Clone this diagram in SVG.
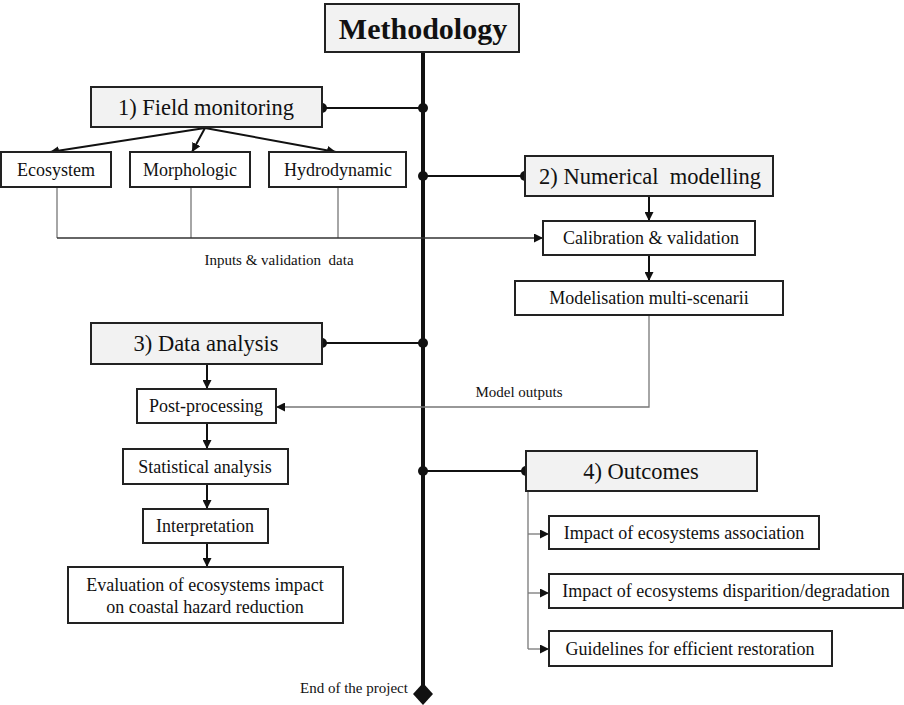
<svg xmlns="http://www.w3.org/2000/svg" width="904" height="705" viewBox="0 0 904 705" font-family="'Liberation Serif', 'Times New Roman', serif">
<style>
.box{fill:#fff;stroke:#222;stroke-width:2}
.hbox{fill:#f2f2f2;stroke:#222;stroke-width:2}
text{font-family:'Liberation Serif','Times New Roman',serif;fill:#111;text-anchor:middle}
.t16{font-size:18px}
.t20{font-size:22.5px}
.t12{font-size:15px}
.ln{stroke:#111;stroke-width:2;fill:none}
.gl{stroke:#777;stroke-width:1.3;fill:none}
.dot{fill:#111}
</style>
<defs>
<marker id="ah" viewBox="0 0 10 10" refX="10" refY="5" markerWidth="9" markerHeight="9" markerUnits="userSpaceOnUse" orient="auto">
<path d="M0,0 L10,5 L0,10 z" fill="#111"/>
</marker>
</defs>
<rect width="904" height="705" fill="#fff"/>
<g id="connectors">
<line x1="423" y1="52" x2="423" y2="690" stroke="#111" stroke-width="4"/>
<path d="M423,683 L433,694 L423,705 L413,694 z" fill="#111"/>
<line class="ln" x1="322" y1="108" x2="423" y2="108"/>
<circle class="dot" cx="322" cy="108" r="5"/><circle class="dot" cx="423" cy="108" r="5"/>
<line class="ln" x1="423" y1="176" x2="525" y2="176"/>
<circle class="dot" cx="423" cy="176" r="5"/><circle class="dot" cx="525" cy="176" r="5"/>
<line class="ln" x1="322" y1="343" x2="423" y2="343"/>
<circle class="dot" cx="322" cy="343" r="5"/><circle class="dot" cx="423" cy="343" r="5"/>
<line class="ln" x1="423" y1="471" x2="526" y2="471"/>
<circle class="dot" cx="423" cy="471" r="5"/><circle class="dot" cx="526" cy="471" r="5"/>
<line class="ln" x1="205" y1="128" x2="50" y2="152" marker-end="url(#ah)"/>
<line class="ln" x1="205" y1="128" x2="192" y2="152" marker-end="url(#ah)"/>
<line class="ln" x1="205" y1="128" x2="336" y2="152" marker-end="url(#ah)"/>
<path class="gl" d="M57,187 V238 M191,187 V238 M338,187 V238"/>
<line x1="57" y1="238" x2="543" y2="238" stroke="#333" stroke-width="1.5" marker-end="url(#ah)"/>
<line class="ln" x1="649" y1="196" x2="649" y2="221" marker-end="url(#ah)"/>
<line class="ln" x1="649" y1="255" x2="649" y2="281" marker-end="url(#ah)"/>
<path class="gl" d="M649,315 V407 H276" marker-end="url(#ah)"/>
<line class="ln" x1="207" y1="364" x2="207" y2="389" marker-end="url(#ah)"/>
<line class="ln" x1="207" y1="423" x2="207" y2="449" marker-end="url(#ah)"/>
<line class="ln" x1="207" y1="484" x2="207" y2="509" marker-end="url(#ah)"/>
<line class="ln" x1="207" y1="543" x2="207" y2="567" marker-end="url(#ah)"/>
<path class="gl" d="M528,491 V649"/>
<line class="gl" x1="528" y1="534" x2="549" y2="534" marker-end="url(#ah)"/>
<line class="gl" x1="528" y1="593" x2="549" y2="593" marker-end="url(#ah)"/>
<line class="gl" x1="528" y1="649" x2="549" y2="649" marker-end="url(#ah)"/>
</g>
<g id="methodology"><rect class="hbox" x="325" y="4" width="194" height="48"/><text x="423" y="39" font-size="30" font-weight="bold">Methodology</text></g>
<g id="field"><rect class="hbox" x="91" y="87" width="231" height="40"/><text class="t20" x="206" y="115">1) Field monitoring</text></g>
<g id="ecosystem"><rect class="box" x="1" y="152" width="110" height="35"/><text class="t16" x="56" y="176">Ecosystem</text></g>
<g id="morphologic"><rect class="box" x="130" y="152" width="120" height="35"/><text class="t16" x="190" y="176">Morphologic</text></g>
<g id="hydrodynamic"><rect class="box" x="269" y="152" width="137" height="35"/><text class="t16" x="338" y="176">Hydrodynamic</text></g>
<text class="t12" x="279" y="265" xml:space="preserve">Inputs &amp; validation  data</text>
<g id="numerical"><rect class="hbox" x="525" y="156" width="248" height="40"/><text class="t20" x="650" y="184" xml:space="preserve">2) Numerical  modelling</text></g>
<g id="calibration"><rect class="box" x="543" y="221" width="212" height="34"/><text class="t16" x="651" y="244">Calibration &amp; validation</text></g>
<g id="modelisation"><rect class="box" x="515" y="281" width="268" height="34"/><text class="t16" x="649" y="304">Modelisation multi-scenarii</text></g>
<text class="t12" x="519" y="397">Model outputs</text>
<g id="data"><rect class="hbox" x="91" y="323" width="231" height="41"/><text class="t20" x="206" y="351">3) Data analysis</text></g>
<g id="post"><rect class="box" x="137" y="389" width="139" height="34"/><text class="t16" x="206" y="412">Post-processing</text></g>
<g id="stat"><rect class="box" x="123" y="449" width="165" height="35"/><text class="t16" x="205" y="473">Statistical analysis</text></g>
<g id="interp"><rect class="box" x="143" y="509" width="125" height="34"/><text class="t16" x="205" y="532">Interpretation</text></g>
<g id="evaluation"><rect class="box" x="68" y="567" width="275" height="56"/><text class="t16" x="205" y="591">Evaluation of ecosystems impact</text><text class="t16" x="205" y="613">on coastal hazard reduction</text></g>
<g id="outcomes"><rect class="hbox" x="526" y="451" width="231" height="40"/><text class="t20" x="641" y="479">4) Outcomes</text></g>
<g id="o1"><rect class="box" x="549" y="516" width="270" height="33"/><text class="t16" x="684" y="539">Impact of ecosystems association</text></g>
<g id="o2"><rect class="box" x="549" y="574" width="354" height="34"/><text class="t16" x="726" y="597">Impact of ecosystems disparition/degradation</text></g>
<g id="o3"><rect class="box" x="549" y="631" width="283" height="35"/><text class="t16" x="690" y="655">Guidelines for efficient restoration</text></g>
<text class="t12" x="354" y="693">End of the project</text>
</svg>
